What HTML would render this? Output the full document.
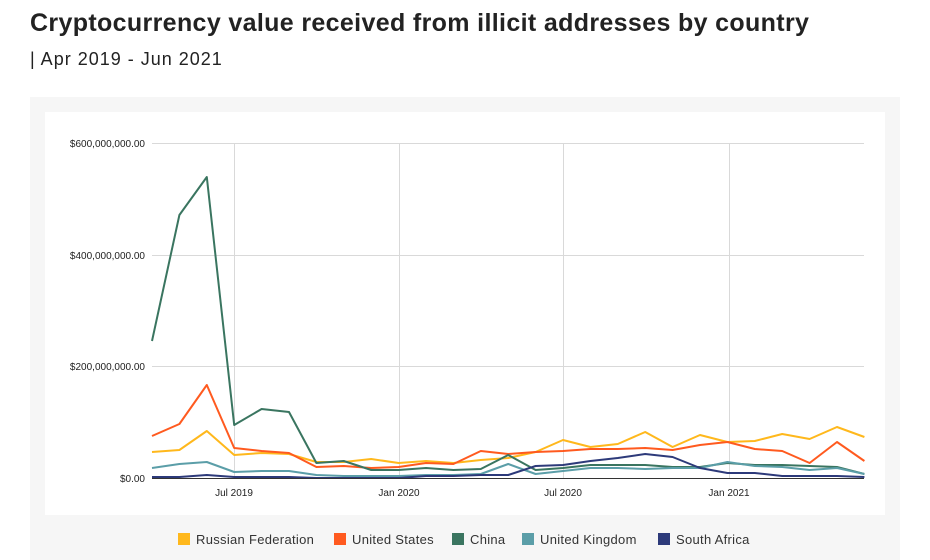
<!DOCTYPE html>
<html><head><meta charset="utf-8"><style>
body{margin:0;width:930px;height:560px;background:#fff;font-family:"Liberation Sans",sans-serif;overflow:hidden;position:relative}
.t{position:absolute;left:30px;top:9px;font-size:25px;font-weight:bold;color:#222;letter-spacing:0.35px}
.s{position:absolute;left:30px;top:49px;font-size:18px;color:#222;letter-spacing:1px}
.p{position:absolute;left:30px;top:97px;width:870px;height:463px;background:#f6f6f6}
.w{position:absolute;left:45px;top:112px;width:840px;height:403px;background:#fff}
</style></head><body>
<div class="t">Cryptocurrency value received from illicit addresses by country</div>
<div class="s">| Apr 2019 - Jun 2021</div>
<div class="p"></div><div class="w"></div>
<svg width="930" height="560" style="position:absolute;left:0;top:0" font-family="Liberation Sans, sans-serif">
<g stroke="#d9d9d9" stroke-width="1">
<line x1="152" y1="143.5" x2="864" y2="143.5"/><line x1="152" y1="255.5" x2="864" y2="255.5"/><line x1="152" y1="366.5" x2="864" y2="366.5"/>
<line x1="234.5" y1="143" x2="234.5" y2="478"/><line x1="399.5" y1="143" x2="399.5" y2="478"/><line x1="563.5" y1="143" x2="563.5" y2="478"/><line x1="729.5" y1="143" x2="729.5" y2="478"/>
</g>
<g font-size="10" fill="#222" text-anchor="end">
<text x="145" y="147">$600,000,000.00</text><text x="145" y="259">$400,000,000.00</text><text x="145" y="370">$200,000,000.00</text><text x="145" y="482">$0.00</text>
</g>
<g font-size="10" fill="#222" text-anchor="middle">
<text x="234" y="496">Jul 2019</text><text x="399" y="496">Jan 2020</text><text x="563" y="496">Jul 2020</text><text x="729" y="496">Jan 2021</text>
</g>
<g fill="none" stroke-width="2" stroke-linejoin="round">
<polyline stroke="#FFB81C" points="152,452 179.4,450 206.8,431 234.2,455 261.6,453 289,454 316.4,462 343.8,462 371.2,459 398.6,463 426,461 453.4,463 480.8,460 508.2,458 535.6,452 563,440 590.4,447 617.8,444 645.2,432 672.6,447 700,435 727.4,442 754.8,441 782.2,434 809.6,439 837,427 864.4,437"/>
<polyline stroke="#FF5A1F" points="152,436 179.4,424 206.8,385 234.2,448 261.6,451 289,453 316.4,467 343.8,466 371.2,468 398.6,467 426,463 453.4,464 480.8,451 508.2,454 535.6,452 563,451 590.4,449 617.8,449 645.2,448 672.6,450 700,445 727.4,442 754.8,449 782.2,451 809.6,463 837,442 864.4,461"/>
<polyline stroke="#3A7560" points="152,341 179.4,215 206.8,177 234.2,425 261.6,409 289,412 316.4,463 343.8,461 371.2,470 398.6,470 426,468 453.4,470 480.8,469 508.2,455 535.6,470 563,468 590.4,465 617.8,465 645.2,465 672.6,467 700,467 727.4,463 754.8,465 782.2,465 809.6,466 837,467 864.4,474"/>
<polyline stroke="#5B9EA8" points="152,468 179.4,464 206.8,462 234.2,472 261.6,471 289,471 316.4,475 343.8,476 371.2,476 398.6,476 426,475 453.4,475 480.8,474 508.2,464 535.6,474 563,471 590.4,468 617.8,468 645.2,469 672.6,468 700,468 727.4,462 754.8,466 782.2,467 809.6,470 837,468 864.4,474"/>
<polyline stroke="#2D3A7A" points="152,477 179.4,477 206.8,475 234.2,477 261.6,477 289,477 316.4,478 343.8,478 371.2,478 398.6,478 426,476 453.4,476 480.8,475 508.2,475 535.6,466 563,465 590.4,461 617.8,458 645.2,454 672.6,457 700,468 727.4,473 754.8,473 782.2,476 809.6,476 837,476 864.4,477"/>
</g>
<line x1="152" y1="478.5" x2="864" y2="478.5" stroke="#333" stroke-width="1"/>
<g font-size="13" fill="#333" letter-spacing="0.3">
<rect x="178" y="533" width="12" height="12" fill="#FFB81C"/><text x="196" y="544">Russian Federation</text>
<rect x="334" y="533" width="12" height="12" fill="#FF5A1F"/><text x="352" y="544">United States</text>
<rect x="452" y="533" width="12" height="12" fill="#3A7560"/><text x="470" y="544">China</text>
<rect x="522" y="533" width="12" height="12" fill="#5B9EA8"/><text x="540" y="544">United Kingdom</text>
<rect x="658" y="533" width="12" height="12" fill="#2D3A7A"/><text x="676" y="544">South Africa</text>
</g>
</svg>
</body></html>
